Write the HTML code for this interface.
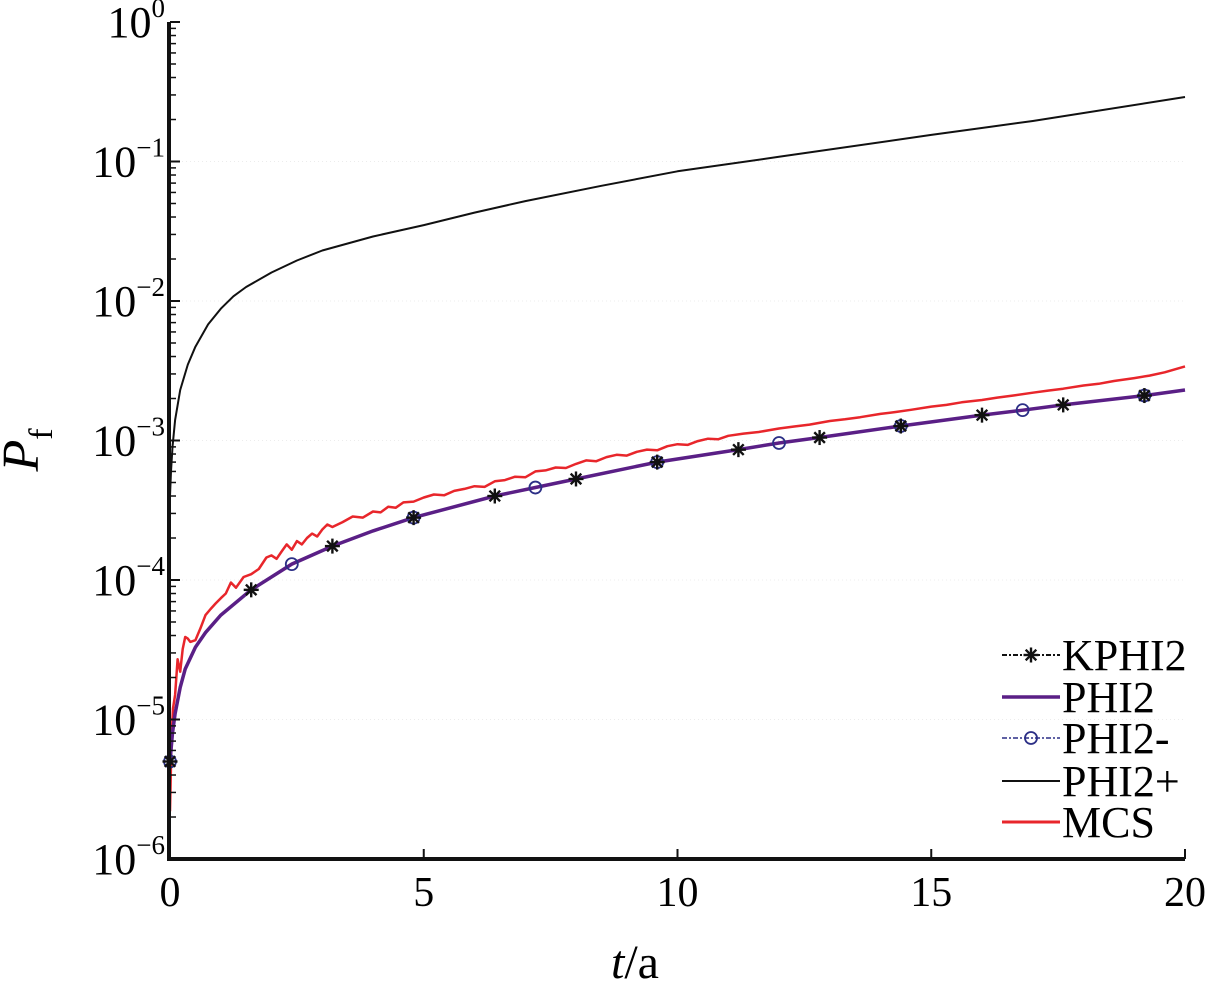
<!DOCTYPE html>
<html><head><meta charset="utf-8"><style>
body{margin:0;background:#fff}
svg{display:block;font-family:"Liberation Serif",serif}
</style></head><body>
<svg id="chart" width="1210" height="989" viewBox="0 0 1210 989">
<g id="grid"></g>
<g id="series"></g>
<g id="axes"></g>
<text x="38" y="450" font-size="52" font-style="italic" transform="rotate(-90 38 450)" text-anchor="middle">P<tspan font-size="34" font-style="normal" dy="14">f</tspan></text>
<text x="635" y="978" font-size="48" text-anchor="middle"><tspan font-style="italic">t</tspan>/a</text>
<g id="legend"></g>
</svg>
<script>
const xTicks=[0,5,10,15,20];
const yDecades=[0,-1,-2,-3,-4,-5,-6];
const phiT=[0,0.05,0.1,0.2,0.3,0.5,0.7,1,1.6,2.4,3.2,4,4.8,6.4,7.2,8,9.6,11.2,12,12.8,14.4,16,16.8,17.6,19.2,20];
const phiV=[5e-6,8e-6,1.1e-5,1.7e-5,2.3e-5,3.3e-5,4.2e-5,5.6e-5,8.5e-5,1.3e-4,1.75e-4,2.25e-4,2.8e-4,4e-4,4.6e-4,5.3e-4,7e-4,8.6e-4,9.6e-4,1.05e-3,1.27e-3,1.52e-3,1.65e-3,1.8e-3,2.1e-3,2.3e-3];
const plusT=[0,0.02,0.05,0.1,0.2,0.35,0.5,0.75,1,1.25,1.5,2,2.5,3,4,5,6,7,8.5,10,12,15,17,20];
const plusV=[4e-4,6e-4,9e-4,1.4e-3,2.3e-3,3.5e-3,4.7e-3,6.8e-3,8.8e-3,1.08e-2,1.26e-2,1.6e-2,1.95e-2,2.3e-2,2.9e-2,3.5e-2,4.3e-2,5.2e-2,6.7e-2,8.5e-2,1.08e-1,1.55e-1,1.95e-1,2.9e-1];
const mcsT=[0,0.03,0.06,0.1,0.15,0.2,0.25,0.3,0.35,0.4,0.5,0.6,0.7,0.8,0.9,1,1.1,1.2,1.3,1.45,1.6,1.75,1.9,2,2.1,2.2,2.3,2.4,2.5,2.6,2.7,2.8,2.9,3,3.1,3.2,3.4,3.6,3.8,4,4.15,4.3,4.45,4.6,4.8,5,5.2,5.4,5.6,5.8,6,6.2,6.4,6.6,6.8,7,7.2,7.4,7.6,7.8,8,8.2,8.4,8.6,8.8,9,9.2,9.4,9.6,9.8,10,10.2,10.4,10.6,10.8,11,11.3,11.6,12,12.3,12.6,13,13.3,13.6,14,14.3,14.6,15,15.3,15.6,16,16.3,16.6,17,17.3,17.6,18,18.3,18.6,19,19.3,19.6,20];
const mcsV=[2.2e-6,7e-6,1.2e-5,1.5e-5,2.7e-5,2.2e-5,3.2e-5,3.9e-5,3.8e-5,3.6e-5,3.7e-5,4.5e-5,5.6e-5,6.2e-5,6.8e-5,7.4e-5,8e-5,9.6e-5,8.8e-5,1.05e-4,1.1e-4,1.2e-4,1.45e-4,1.5e-4,1.42e-4,1.6e-4,1.8e-4,1.65e-4,1.9e-4,1.8e-4,2e-4,2.15e-4,2.05e-4,2.3e-4,2.5e-4,2.4e-4,2.6e-4,2.85e-4,2.8e-4,3.1e-4,3.05e-4,3.35e-4,3.3e-4,3.6e-4,3.65e-4,3.9e-4,4.1e-4,4.05e-4,4.35e-4,4.5e-4,4.7e-4,4.65e-4,5.1e-4,5.2e-4,5.5e-4,5.45e-4,6e-4,6.1e-4,6.4e-4,6.35e-4,6.8e-4,7.2e-4,7.1e-4,7.6e-4,7.9e-4,7.8e-4,8.3e-4,8.6e-4,8.5e-4,9.1e-4,9.4e-4,9.3e-4,9.9e-4,1.03e-3,1.02e-3,1.08e-3,1.12e-3,1.15e-3,1.22e-3,1.26e-3,1.3e-3,1.38e-3,1.42e-3,1.47e-3,1.55e-3,1.6e-3,1.66e-3,1.75e-3,1.8e-3,1.88e-3,1.95e-3,2.03e-3,2.1e-3,2.2e-3,2.28e-3,2.35e-3,2.48e-3,2.55e-3,2.67e-3,2.8e-3,2.92e-3,3.08e-3,3.4e-3];
const starT=[0,1.6,3.2,4.8,6.4,8,9.6,11.2,12.8,14.4,16,17.6,19.2];
const circT=[0,2.4,4.8,7.2,9.6,12,14.4,16.8,19.2];
const legendLabels=["KPHI2","PHI2","PHI2-","PHI2+","MCS"];

const X0=170,X1=1185,Y0=22,Y1=859;
const xs=t=>X0+(X1-X0)*t/20;
const ys=v=>Y0+(Y1-Y0)*(-Math.log10(v))/6;
const NS="http://www.w3.org/2000/svg";
function mk(tag,attrs,parent){const e=document.createElementNS(NS,tag);for(const k in attrs)e.setAttribute(k,attrs[k]);parent.appendChild(e);return e;}
function interpLog(T,V,t){for(let i=0;i<T.length-1;i++){if(t<=T[i+1]){const f=(t-T[i])/(T[i+1]-T[i]);return Math.pow(10,Math.log10(V[i])+f*(Math.log10(V[i+1])-Math.log10(V[i])));}}return V[V.length-1];}
function pathOf(T,V){return T.map((t,i)=>(i?'L':'M')+xs(t).toFixed(1)+','+ys(V[i]).toFixed(1)).join(' ');}

const grid=document.getElementById('grid'),ser=document.getElementById('series'),ax=document.getElementById('axes'),lg=document.getElementById('legend');
yDecades.slice(1,6).forEach(d=>{const g=mk('line',{x1:X0,x2:X1,y1:ys(Math.pow(10,d)),y2:ys(Math.pow(10,d)),stroke:'#ececec','stroke-dasharray':'1 3','stroke-width':1},grid);

});

let p=mk('path',{d:pathOf(plusT,plusV),fill:'none',stroke:'#111','stroke-width':2,'stroke-linejoin':'round'},ser);


p=mk('path',{d:pathOf(mcsT,mcsV),fill:'none',stroke:'#e8262b','stroke-width':2.5,'stroke-linejoin':'round'},ser);


p=mk('path',{d:pathOf(phiT,phiV),fill:'none',stroke:'#5a1f86','stroke-width':3.5},ser);



function star(cx,cy,par,name){const g=mk('g',{stroke:'#111','stroke-width':2.4},par);


for(let a=0;a<4;a++){const an=a*Math.PI/4;mk('line',{x1:cx-7.5*Math.cos(an),y1:cy-7.5*Math.sin(an),x2:cx+7.5*Math.cos(an),y2:cy+7.5*Math.sin(an)},g);}}
function circ(cx,cy,par,name){const c=mk('circle',{cx:cx,cy:cy,r:6,fill:'none',stroke:'#2c2f86','stroke-width':1.8},par);

}
circT.forEach(t=>circ(xs(t),ys(interpLog(phiT,phiV,t)),ser,'phi2-minus-marker'));
starT.forEach(t=>star(xs(t),ys(interpLog(phiT,phiV,t)),ser,'kphi2-marker'));

// axes
let a=mk('line',{x1:X0-1,x2:X0-1,y1:Y0,y2:Y1+2,stroke:'#111','stroke-width':4},ax);


a=mk('line',{x1:X0-3,x2:X1,y1:Y1,y2:Y1,stroke:'#111','stroke-width':4},ax);


mk('line',{x1:X1,x2:X1,y1:Y1,y2:Y1-10,stroke:'#111','stroke-width':1.5},ax);
yDecades.forEach(d=>{const y=ys(Math.pow(10,d));
mk('line',{x1:X0,x2:X0+10,y1:y,y2:y,stroke:'#111','stroke-width':2},ax);
if(d>-6)for(let m=2;m<10;m++){const yy=ys(m*Math.pow(10,d-1));mk('line',{x1:X0,x2:X0+6,y1:yy,y2:yy,stroke:'#111','stroke-width':1.5},ax);}
const t=mk('text',{x:165,y:y+15,'font-size':44,'text-anchor':'end'},ax);


const b=mk('tspan',{},t);b.textContent='10';
const s=mk('tspan',{'font-size':27,dy:-20},t);
s.textContent=d===0?'0':'\u2212'+(-d);});
xTicks.forEach(v=>{const x=xs(v);
mk('line',{x1:x,x2:x,y1:Y1,y2:Y1-10,stroke:'#111','stroke-width':2},ax);
const t=mk('text',{x:x,y:906,'font-size':42,'text-anchor':'middle'},ax);


t.textContent=v;});

// legend
const ly=[655,697,738,781,822];
legendLabels.forEach((lab,i)=>{const y=ly[i];const g=mk('g',{},lg);


if(i===0){mk('line',{x1:1002,x2:1060,y1:y,y2:y,stroke:'#111','stroke-width':2,'stroke-dasharray':'5 2 2 2'},g);star(1031,y,g,'legend-star');}
if(i===1)mk('line',{x1:1002,x2:1060,y1:y,y2:y,stroke:'#5a1f86','stroke-width':3.5},g);
if(i===2){mk('line',{x1:1002,x2:1060,y1:y,y2:y,stroke:'#2c2f86','stroke-width':1.5,'stroke-dasharray':'5 2 2 2'},g);circ(1031,y,g,'legend-circle');}
if(i===3)mk('line',{x1:1002,x2:1060,y1:y,y2:y,stroke:'#111','stroke-width':2},g);
if(i===4)mk('line',{x1:1002,x2:1060,y1:y,y2:y,stroke:'#e8262b','stroke-width':3},g);
const t=mk('text',{x:1062,y:y+15,'font-size':44},g);


t.textContent=lab;});
</script>
</body></html>
